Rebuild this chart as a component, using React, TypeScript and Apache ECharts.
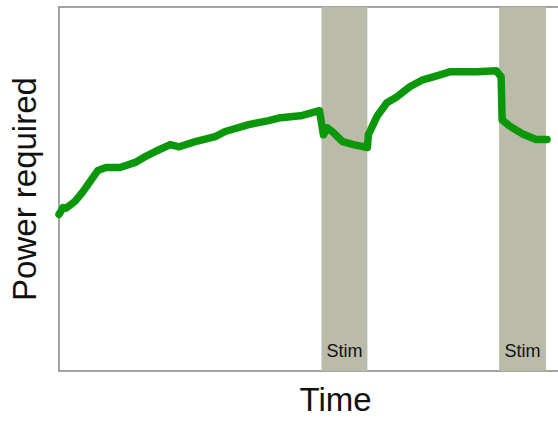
import React, { useEffect, useRef } from "react";
import * as echarts from "echarts";

// Time (arbitrary units, 0-100) and power required (arbitrary units, 0-100)
const timeValues = [
  0, 0.8, 1.4, 3.2, 4.8, 7.8, 9.4, 12.2, 15.3, 17.3, 19.3, 22.3, 24.1, 27.3,
  31.3, 33.3, 38.0, 42.0, 44.4, 48.4, 52.2, 53.0, 53.8, 55.0, 56.8, 59.0, 61.8,
  62.0, 63.7, 65.7, 67.7, 70.3, 72.9, 75.7, 78.3, 83.7, 87.6, 88.6, 88.8, 90.2,
  92.8, 95.6, 97.8,
];
const powerValues = [
  43.0, 44.9, 44.7, 46.6, 49.3, 55.1, 55.9, 55.9, 57.3, 58.9, 60.3, 62.2, 61.6,
  63.0, 64.4, 65.8, 67.7, 68.8, 69.6, 70.1, 71.5, 64.9, 66.8, 65.5, 63.0, 62.2,
  61.4, 64.9, 69.9, 73.7, 75.3, 78.1, 80.0, 81.1, 82.2, 82.2, 82.5, 80.8, 69.0,
  67.4, 65.2, 63.6, 63.6,
];

// Stimulation periods
const stimStart = [52.6, 88.2];
const stimEnd = [61.8, 97.6];
const stimLabels = ["Stim", "Stim"];

const FONT = "'Liberation Sans', Arial, Helvetica, sans-serif";
const AXIS_COLOR = "#858585";

export default function App() {
  const ref = useRef<HTMLDivElement>(null);

  useEffect(() => {
    if (!ref.current) return;
    const chart = echarts.init(ref.current, null, { renderer: "svg" });

    const lineData = timeValues.map((t, i) => [t, powerValues[i]]);
    const areas = stimStart.map((s, i) => [
      { xAxis: s, name: stimLabels[i] },
      { xAxis: stimEnd[i] },
    ]);

    const axisCommon = {
      type: "value" as const,
      min: 0,
      max: 100,
      splitLine: { show: false },
      axisTick: { show: false },
      axisLabel: { show: false },
      axisLine: { show: true, lineStyle: { color: AXIS_COLOR, width: 1.5 } },
    };

    chart.setOption({
      animation: false,
      backgroundColor: "#ffffff",
      grid: { left: 56, right: 0, top: 7, bottom: 49, containLabel: false },
      xAxis: [
        {
          ...axisCommon,
          position: "bottom",
          name: "Time",
          nameLocation: "middle",
          nameGap: 12,
          nameTextStyle: {
            fontFamily: FONT,
            fontSize: 33,
            color: "#111111",
            padding: [0, 0, 0, 54],
            verticalAlign: "top",
          },
        },
        { ...axisCommon, position: "top" },
      ],
      yAxis: {
        ...axisCommon,
        name: "Power required",
        nameLocation: "middle",
        nameGap: 18,
        nameTextStyle: {
          fontFamily: FONT,
          fontSize: 33,
          color: "#111111",
        },
      },
      series: [
        {
          type: "line",
          xAxisIndex: 0,
          data: [],
          z: 1,
          silent: true,
          markArea: {
            silent: true,
            itemStyle: { color: "#bbbbaa", opacity: 1 },
            label: {
              show: true,
              position: "insideBottom",
              distance: 11,
              fontFamily: FONT,
              fontSize: 18,
              color: "#111111",
            },
            data: areas,
          },
        },
        {
          type: "line",
          xAxisIndex: 0,
          data: lineData,
          z: 3,
          symbol: "none",
          smooth: false,
          lineStyle: {
            color: "#0a980a",
            width: 7.5,
            cap: "round",
            join: "round",
          },
        },
      ],
    });

    return () => chart.dispose();
  }, []);

  return (
    <div
      ref={ref}
      style={{ position: "absolute", left: 0, top: 0, width: 558, height: 421 }}
    />
  );
}
